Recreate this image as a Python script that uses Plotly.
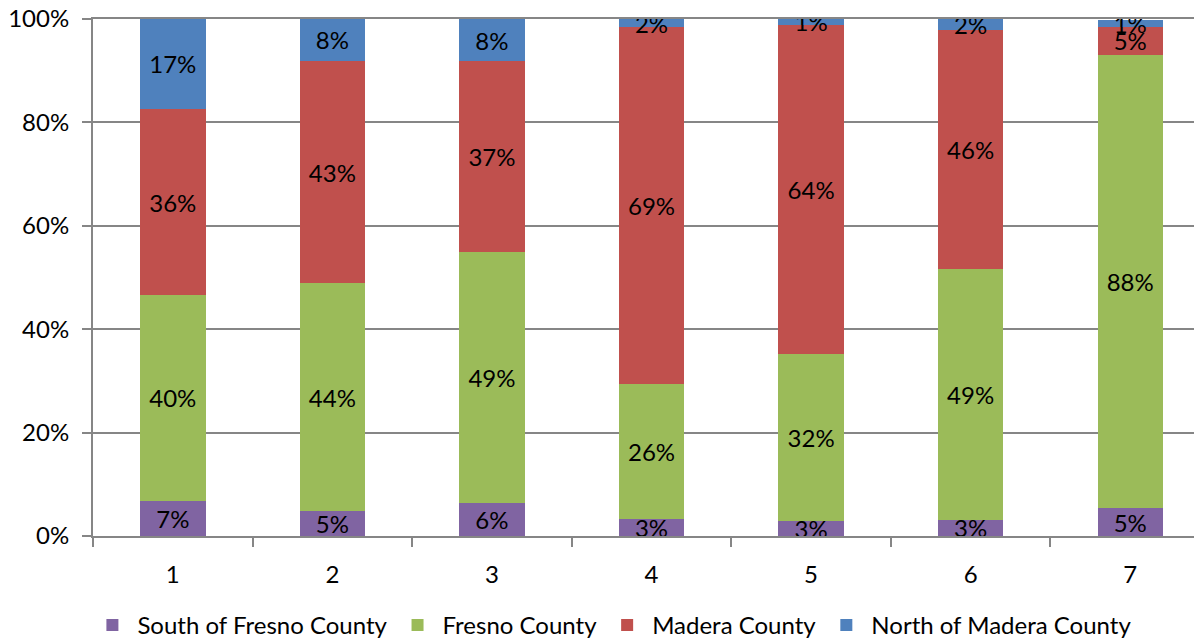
import plotly.graph_objects as go

categories = ['1', '2', '3', '4', '5', '6', '7']
south_fresno = [6.8, 4.8, 6.4, 3.3, 2.9, 3.1, 5.4]
fresno = [39.8, 44.1, 48.6, 26.1, 32.4, 48.6, 87.7]
madera = [36.0, 43.0, 36.8, 69.0, 63.6, 46.1, 5.4]
north_madera = [17.4, 8.1, 8.2, 1.6, 1.1, 2.2, 1.4]

series = [
    ('South of Fresno County', south_fresno, '#8064A2'),
    ('Fresno County', fresno, '#9BBB59'),
    ('Madera County', madera, '#C0504D'),
    ('North of Madera County', north_madera, '#4F81BD'),
]

font_family = 'Lato, Calibri, sans-serif'
fsize = 24

fig = go.Figure()
for name, vals, color in series:
    fig.add_trace(go.Bar(
        x=categories,
        y=vals,
        name=name,
        marker=dict(color=color, line=dict(width=0)),
        texttemplate='%{y:.0f}%',
        textposition='inside',
        insidetextanchor='middle',
        textfont=dict(color='black', size=fsize, family=font_family),
        constraintext='none',
    ))

# page body adds 8px offset, so margins are trimmed to compensate
fig.update_layout(
    barmode='stack',
    bargap=0.59,
    width=1202,
    height=640,
    margin=dict(l=85, r=0, t=11, b=112),
    plot_bgcolor='white',
    paper_bgcolor='white',
    font=dict(family=font_family, size=fsize, color='black'),
    uniformtext=dict(minsize=fsize, mode='show'),
    showlegend=True,
    legend=dict(
        orientation='h',
        x=0.465, xanchor='center',
        y=-0.174, yanchor='middle',
        font=dict(size=fsize),
        traceorder='normal',
        itemwidth=40,
    ),
)

fig.update_xaxes(
    type='category',
    range=[-0.5, 6.5],
    automargin=False,
    showline=True, linecolor='#868686', linewidth=2,
    mirror=True,
    ticks='outside', tickson='boundaries', ticklen=9, tickcolor='#868686', tickwidth=2,
    showgrid=False,
    ticklabelstandoff=16,
)

fig.update_yaxes(
    range=[0, 100],
    dtick=20,
    ticksuffix='%',
    automargin=False,
    ticklabeloverflow='allow',
    showline=True, linecolor='#868686', linewidth=2,
    ticks='outside', ticklen=9, tickcolor='#868686', tickwidth=2,
    showgrid=True, gridcolor='#868686', gridwidth=2,
    zeroline=False,
    ticklabelstandoff=8,
)

fig.write_html('out.html')
